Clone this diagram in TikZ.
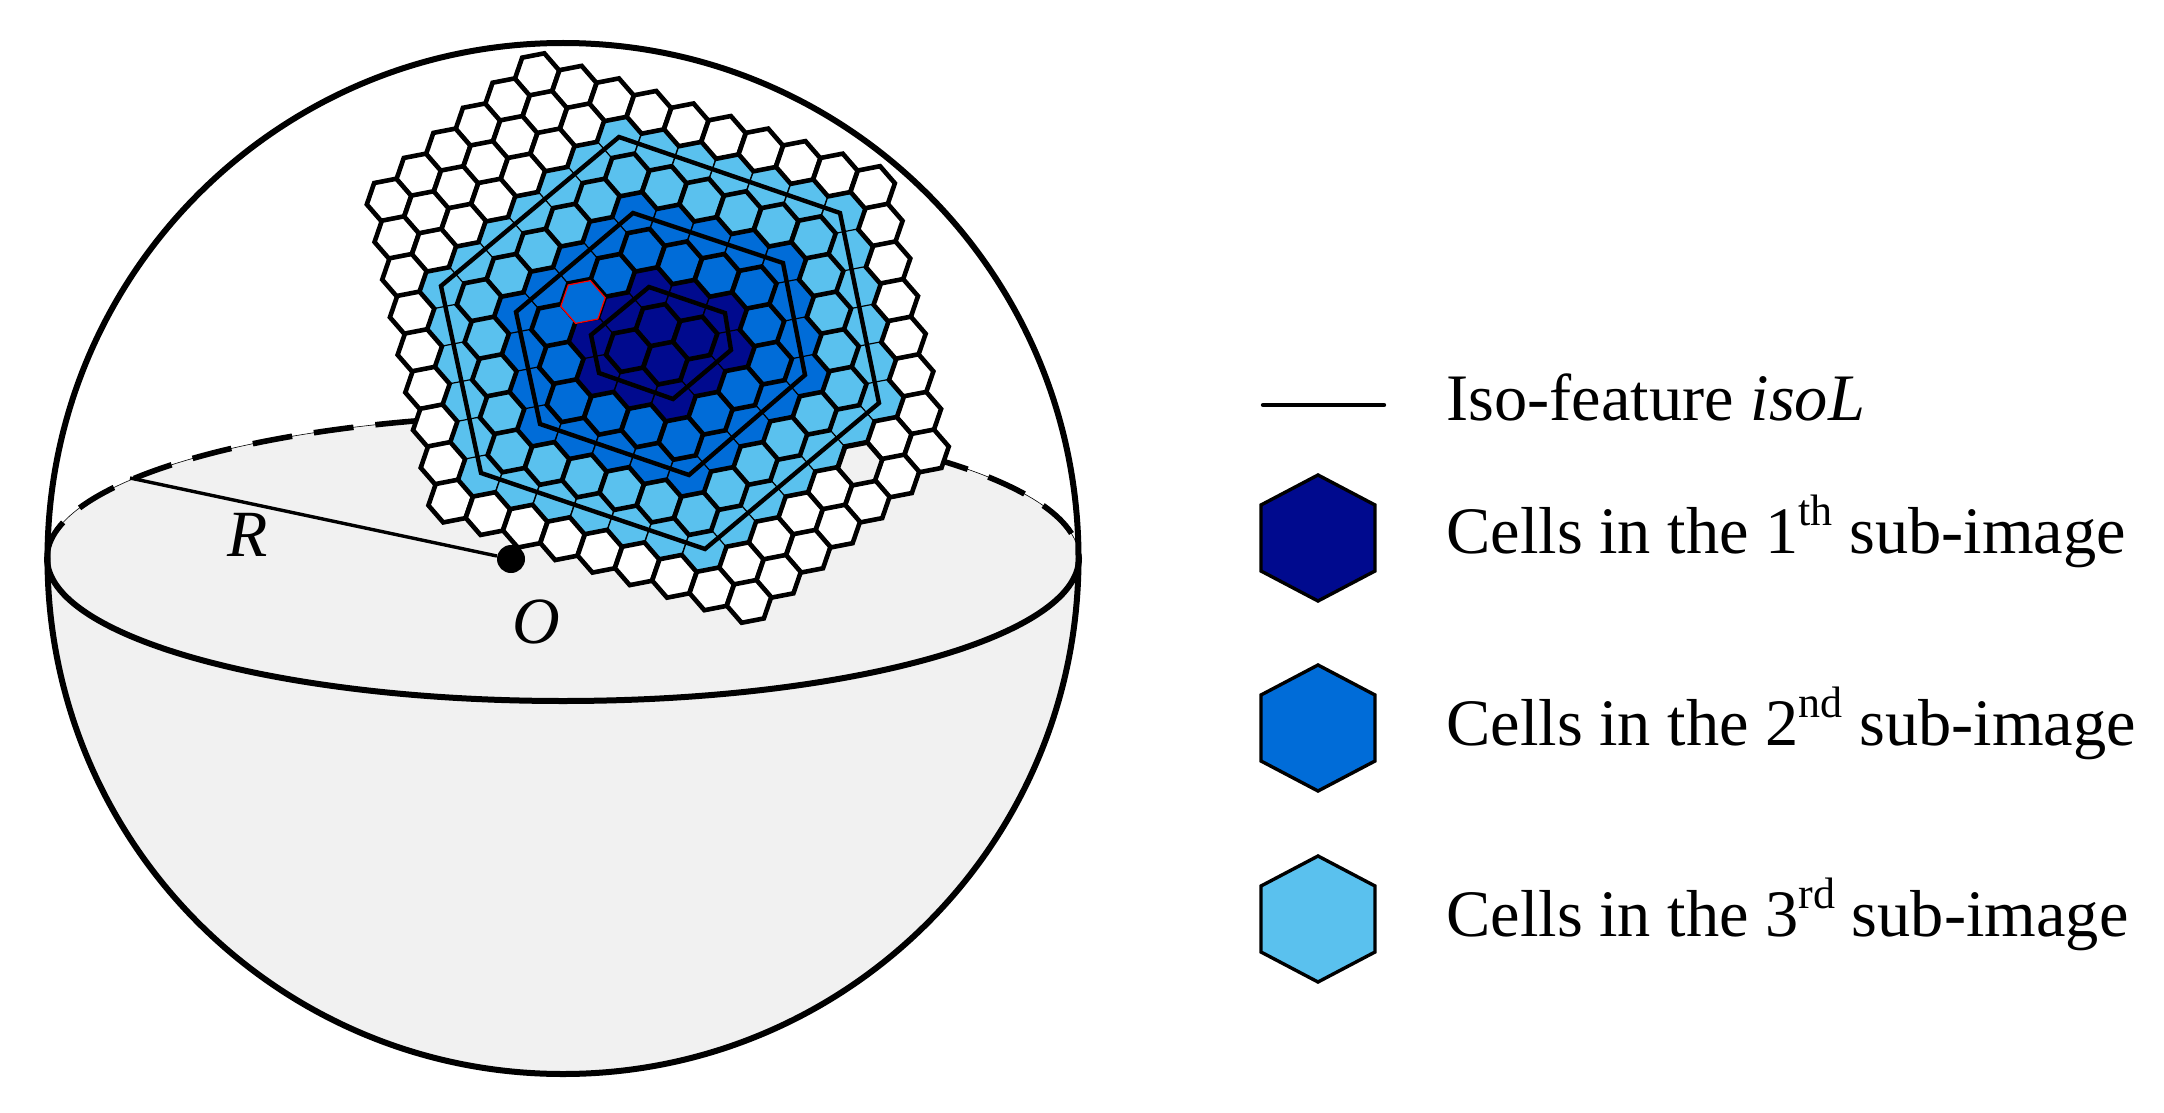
\documentclass[tikz,border=0pt]{standalone}
\usepackage{fontspec}
\setmainfont{Liberation Serif}
\definecolor{cellA}{HTML}{000A8E}
\definecolor{cellB}{HTML}{006CD8}
\definecolor{cellC}{HTML}{5AC1EE}
\definecolor{capgray}{HTML}{F1F1F1}
\newcommand{\hexpath}{(14.83,17.06) -- (-7.36,21.37) -- (-22.18,4.31) -- (-14.83,-17.06) -- (7.36,-21.37) -- (22.18,-4.31) -- cycle}
\newcommand{\keyhex}{(0,-63) -- (57,-33) -- (57,33) -- (0,63) -- (-57,33) -- (-57,-33) -- cycle}
\newcommand{\sups}[1]{\raisebox{0.42em}{\fontsize{22}{24}\selectfont #1}}

\begin{document}
\begin{tikzpicture}[
  x=0.5pt, y=-0.5pt,
  cell/.style={draw=black, line width=2.3pt, line join=miter},
  thincell/.style={draw=black, line width=0.6pt},
  iso/.style={draw=black, line width=2.2pt, line join=miter},
  rim/.style={draw=black, line width=3pt},
  keycell/.style={draw=black, line width=1.7pt},
  lab/.style={font=\fontsize{33.2}{38}\selectfont, inner sep=0pt, anchor=base west},
  sym/.style={font=\fontsize{33}{38}\selectfont\itshape, inner sep=0pt}
]
\useasboundingbox (0,0) rectangle (2164,1113);

% sphere
\fill[capgray] (47,558) arc[start angle=180, end angle=0, radius=516]
  arc[start angle=0, end angle=-180, x radius=516, y radius=143];
\draw[black, line width=0.3pt] (1079,558) arc[start angle=0, end angle=-180, x radius=516, y radius=143];
\draw[black, line width=2.8pt, dash pattern=on 20pt off 11pt] (47,558) arc[start angle=-180, end angle=0, x radius=516, y radius=143];

% cells, thin ones first
\foreach \pass in {0,1}
  \foreach \i in {0,...,16}
    \foreach \j in {0,...,13} {
      \pgfmathtruncatemacro\dd{\i-\j}
      \pgfmathtruncatemacro\edge{min(\i,16-\i,\j,13-\j,\dd+5,9-\dd)}
      \pgfmathtruncatemacro\level{max(min(\i-3,14-\i,\j-1,12-\j,\dd+4,8-\dd)+1,0)}
      \pgfmathtruncatemacro\isthin{mod(\level,2)}
      \pgfmathsetmacro\px{537+37.3*\i-29.6*\j}
      \pgfmathsetmacro\py{74.7+12.54*\i+25.08*\j}
      \ifnum\edge<0 \else
        \ifnum\isthin=\pass \else
          \ifcase\level
            \draw[cell, fill=white, shift={(\px,\py)}] \hexpath;
          \or
            \draw[thincell, fill=cellC, shift={(\px,\py)}] \hexpath;
          \or
            \draw[cell, fill=cellC, shift={(\px,\py)}] \hexpath;
          \or
            \draw[thincell, fill=cellB, shift={(\px,\py)}] \hexpath;
          \or
            \draw[cell, fill=cellB, shift={(\px,\py)}] \hexpath;
          \or
            \draw[thincell, fill=cellA, shift={(\px,\py)}] \hexpath;
          \else
            \draw[cell, fill=cellA, shift={(\px,\py)}] \hexpath;
          \fi
        \fi
      \fi
    }
\draw[cell, fill=capgray, shift={(860,464)}] \hexpath;
\draw[draw=red, line width=0.6pt, fill=cellB, shift={(583,302)}] \hexpath;

% iso-feature lines
\draw[iso] (619,137) -- (840,213) -- (879,403) -- (705,549) -- (481,473) -- (441,286) -- cycle;
\draw[iso] (633,213) -- (783,263) -- (805,375) -- (689,475) -- (540,424) -- (516,312) -- cycle;
\draw[iso] (649,287) -- (725,313) -- (731,350) -- (673,399) -- (599,373) -- (591,335) -- cycle;

% rim and front of the disc
\draw[rim] (47,558) arc[start angle=180, end angle=0, x radius=516, y radius=143];
\draw[rim] (563,558.5) circle[radius=515.5];

% radius
\node[circle, fill=black, inner sep=0pt, minimum size=14pt] (centre) at (511,559) {};
\coordinate (edgept) at (130,478);
\draw[black, line width=1.7pt] (edgept) -- (centre);
\node[sym] (rlabel) at (248,535) {R};
\node[sym] (olabel) at (536,622) {O};

% legend
\coordinate (keyl) at (1263,405);
\coordinate (keyr) at (1384,405);
\draw[black, line width=2.2pt, line cap=round] (keyl) -- (keyr);
\node[lab] (tiso) at (1446,420) {Iso-feature \textit{isoL}};
\draw[keycell, fill=cellA, shift={(1318,538)}] \keyhex;
\node[lab] (tone) at (1446,553) {Cells in the 1\sups{th} sub-image};
\draw[keycell, fill=cellB, shift={(1318,728)}] \keyhex;
\node[lab] (ttwo) at (1446,745) {Cells in the 2\sups{nd} sub-image};
\draw[keycell, fill=cellC, shift={(1318,919)}] \keyhex;
\node[lab] (tthree) at (1446,936) {Cells in the 3\sups{rd} sub-image};
\end{tikzpicture}
\end{document}
